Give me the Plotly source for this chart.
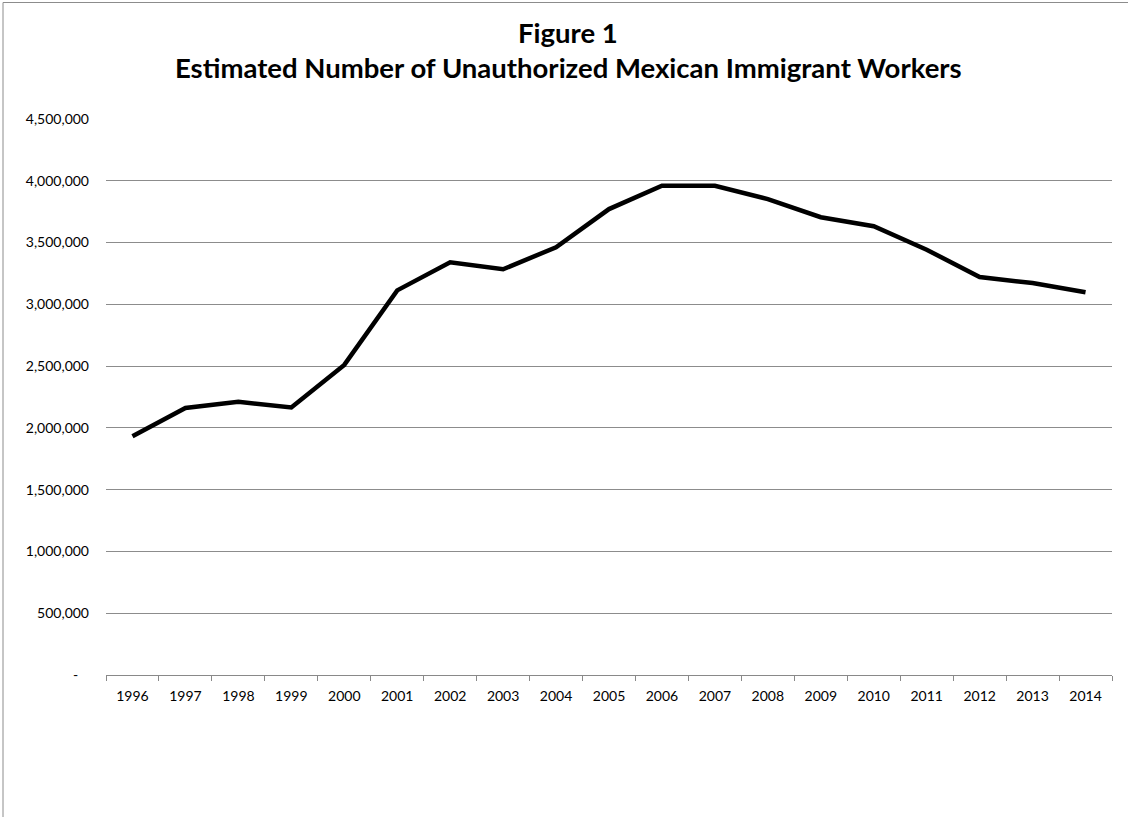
import plotly.graph_objects as go

years = [str(y) for y in range(1996, 2015)]
workers = [1932000, 2161000, 2211000, 2165000, 2510000, 3113000, 3340000, 3284000,
           3462000, 3771000, 3960000, 3960000, 3852000, 3705000, 3632000, 3442000,
           3221000, 3172000, 3098000]
ytickvals = [0, 500000, 1000000, 1500000, 2000000, 2500000, 3000000, 3500000, 4000000, 4500000]
yticktext = ["-\u00a0\u00a0\u00a0", "500,000", "1,000,000", "1,500,000", "2,000,000", "2,500,000",
             "3,000,000", "3,500,000", "4,000,000", "4,500,000"]
title_lines = ["Figure 1", "Estimated Number of Unauthorized Mexican Immigrant Workers"]

font_family = "Lato, 'Open Sans', sans-serif"
W, H = 1128, 817
L, R, T, B = 106, 16, 119, 142
PW, PH = W - L - R, H - T - B

def px(x):
    return (x - L) / PW

def py(y):
    return 1 + (T - y) / PH

fig = go.Figure()
fig.add_trace(go.Scatter(x=years, y=workers, mode="lines",
                         line=dict(color="black", width=4.5), showlegend=False))

fig.update_layout(
    width=W, height=H,
    margin=dict(l=L, r=R, t=T, b=B),
    paper_bgcolor="white", plot_bgcolor="white",
    font=dict(family=font_family, size=14, color="black"),
)

for txt, ymid in zip(title_lines, [32, 68]):
    fig.add_annotation(text="<b>" + txt + "</b>", xref="paper", yref="paper",
                       x=px(568), y=py(ymid), xanchor="center", yanchor="middle",
                       showarrow=False, font=dict(size=27.5, family=font_family, color="black"))

fig.update_xaxes(type="category", range=[-0.5, 18.5], showgrid=False,
                 showline=True, linecolor="#898989", linewidth=1,
                 ticks="outside", tickson="boundaries", ticklen=5, tickcolor="#898989",
                 ticklabelstandoff=8, tickfont=dict(size=14), fixedrange=True)
fig.update_yaxes(range=[0, 4500000], tickvals=ytickvals, ticktext=yticktext,
                 showgrid=True, gridcolor="#8c8c8c", gridwidth=1, zeroline=False,
                 showline=False, ticks="", ticklabelstandoff=16,
                 tickfont=dict(size=14))

# chart frame (left and top edges visible)
fig.add_shape(type="line", xref="paper", yref="paper",
              x0=px(3), x1=px(3), y0=py(H), y1=py(2.5),
              line=dict(color="#8c8c8c", width=1))
fig.add_shape(type="line", xref="paper", yref="paper",
              x0=px(3), x1=px(W), y0=py(2.5), y1=py(2.5),
              line=dict(color="#8c8c8c", width=1))

fig.write_html("out.html", config={"displayModeBar": False},
               post_script="document.body.style.margin='0';")
